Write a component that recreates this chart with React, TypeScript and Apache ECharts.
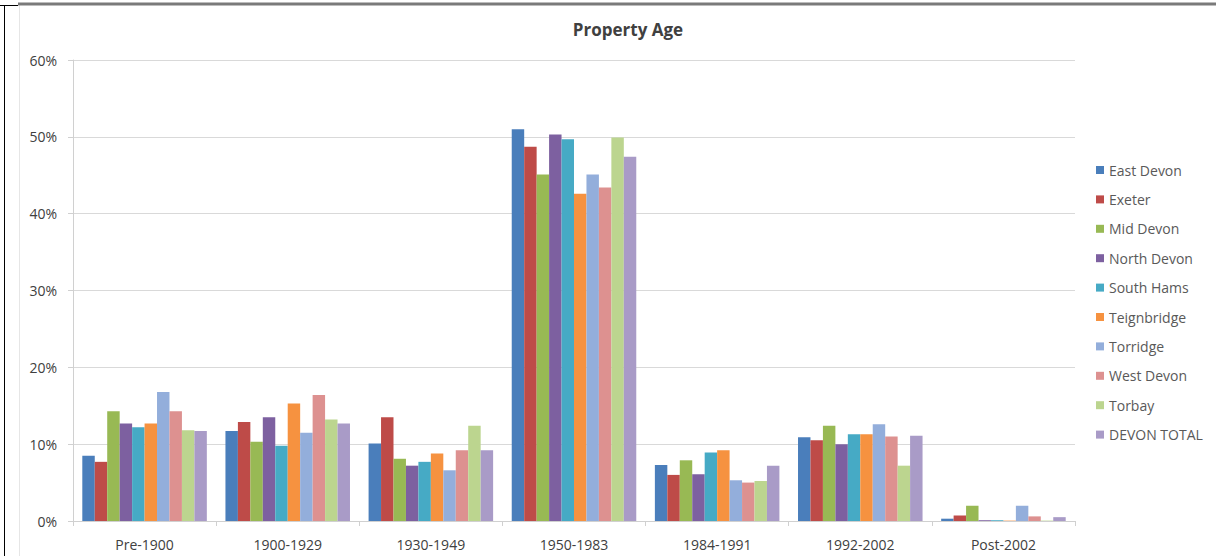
import React, { useEffect, useRef } from "react";
import * as echarts from "echarts";

const categories = ["Pre-1900", "1900-1929", "1930-1949", "1950-1983", "1984-1991", "1992-2002", "Post-2002"];

const seriesNames = [
  "East Devon",
  "Exeter",
  "Mid Devon",
  "North Devon",
  "South Hams",
  "Teignbridge",
  "Torridge",
  "West Devon",
  "Torbay",
  "DEVON TOTAL",
];

const seriesColors = [
  "#4A7EBB",
  "#BE4B48",
  "#98B954",
  "#7D60A0",
  "#46AAC5",
  "#F69240",
  "#93AEDB",
  "#DD9190",
  "#BCD58F",
  "#A99BC7",
];

// Share of properties (%) by construction period
const eastDevon = [8.5, 11.7, 10.1, 51.0, 7.3, 10.9, 0.3];
const exeter = [7.7, 12.9, 13.5, 48.7, 6.0, 10.5, 0.7];
const midDevon = [14.3, 10.3, 8.1, 45.1, 7.9, 12.4, 2.0];
const northDevon = [12.7, 13.5, 7.2, 50.3, 6.1, 10.0, 0.1];
const southHams = [12.2, 9.8, 7.7, 49.7, 8.9, 11.3, 0.1];
const teignbridge = [12.7, 15.3, 8.8, 42.6, 9.2, 11.3, 0.05];
const torridge = [16.8, 11.5, 6.6, 45.1, 5.3, 12.6, 2.0];
const westDevon = [14.3, 16.4, 9.2, 43.4, 5.0, 11.0, 0.6];
const torbay = [11.8, 13.2, 12.4, 49.9, 5.2, 7.2, 0.05];
const devonTotal = [11.7, 12.7, 9.2, 47.4, 7.2, 11.1, 0.5];

const seriesValues = [
  eastDevon,
  exeter,
  midDevon,
  northDevon,
  southHams,
  teignbridge,
  torridge,
  westDevon,
  torbay,
  devonTotal,
];

const yTicks = [0, 10, 20, 30, 40, 50, 60];

const FONT = "'Open Sans', 'Noto Sans', sans-serif";

export default function App() {
  const ref = useRef<HTMLDivElement>(null);

  useEffect(() => {
    if (!ref.current) return;
    const chart = echarts.init(ref.current, null, { renderer: "svg" });
    chart.setOption({
      animation: false,
      backgroundColor: "#ffffff",
      title: {
        text: "Property Age",
        left: 623,
        textAlign: "center",
        top: 16,
        textStyle: { fontFamily: FONT, fontSize: 17, fontWeight: "bold", color: "#404040" },
      },
      legend: {
        orient: "vertical",
        left: 1091,
        top: 157,
        itemWidth: 8,
        itemHeight: 8,
        itemGap: 13.4,
        icon: "rect",
        data: seriesNames,
        textStyle: { fontFamily: FONT, fontSize: 14, color: "#595959", lineHeight: 16 },
      },
      grid: { left: 73, right: 141, top: 60, bottom: 35, containLabel: false },
      xAxis: {
        type: "category",
        data: categories,
        axisLine: { lineStyle: { color: "#D0D0D0" } },
        axisTick: { show: true, alignWithLabel: false, length: 5, lineStyle: { color: "#D0D0D0" } },
        axisLabel: { fontFamily: FONT, fontSize: 14, color: "#404040", margin: 16 },
      },
      yAxis: {
        type: "value",
        min: yTicks[0],
        max: yTicks[yTicks.length - 1],
        interval: 10,
        axisLine: { show: true, lineStyle: { color: "#D0D0D0" } },
        axisTick: { show: true, length: 5, lineStyle: { color: "#D0D0D0" } },
        axisLabel: { fontFamily: FONT, fontSize: 14, color: "#404040", margin: 16, formatter: "{value}%" },
        splitLine: { lineStyle: { color: "#D9D9D9" } },
      },
      series: seriesNames.map((name, i) => ({
        name,
        type: "bar",
        data: seriesValues[i],
        barGap: "0%",
        barCategoryGap: "13%",
        itemStyle: { color: seriesColors[i] },
      })),
      graphic: [
        { type: "line", shape: { x1: 18, y1: 4, x2: 1216, y2: 4 }, style: { stroke: "#7a7a7a", lineWidth: 3 } },
        { type: "line", shape: { x1: 0, y1: 5.5, x2: 18, y2: 5.5 }, style: { stroke: "#000", lineWidth: 1 } },
        { type: "line", shape: { x1: 4.5, y1: 5, x2: 4.5, y2: 556 }, style: { stroke: "#000", lineWidth: 1 } },
        { type: "line", shape: { x1: 19.5, y1: 6, x2: 19.5, y2: 556 }, style: { stroke: "#E6E6E6", lineWidth: 1 } },
      ],
    });
    return () => chart.dispose();
  }, []);

  return (
    <div
      ref={ref}
      style={{ position: "fixed", left: 0, top: 0, width: 1216, height: 556, background: "#fff" }}
    />
  );
}
